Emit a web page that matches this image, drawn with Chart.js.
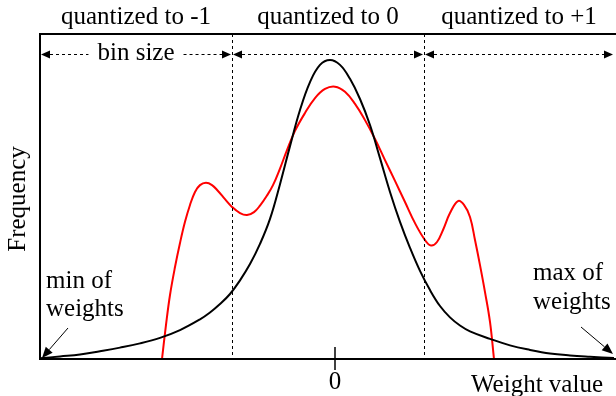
<!DOCTYPE html>
<html>
<head>
<meta charset="utf-8">
<script src="https://cdn.jsdelivr.net/npm/chart.js@4.4.1/dist/chart.umd.min.js"></script>
<style>
  html, body { margin: 0; padding: 0; background: #ffffff; }
  #c { display: block; }
</style>
</head>
<body>
<canvas id="c" width="616" height="396"></canvas>
<script>
// Full-precision weight distribution (black)
const fullX = [-2.95,-2.75,-2.55,-2.35,-2.15,-1.95,-1.75,-1.55,-1.35,-1.25,-1.15,-1.05,-0.95,-0.85,-0.75,-0.65,-0.55,-0.45,-0.35,-0.25,-0.15,-0.05,0.05,0.15,0.25,0.35,0.45,0.55,0.65,0.75,0.85,0.95,1.05,1.15,1.25,1.35,1.55,1.75,1.95,2.15,2.35,2.55,2.79];
const fullY = [0.002,0.008,0.014,0.024,0.035,0.048,0.065,0.089,0.122,0.143,0.169,0.200,0.242,0.292,0.354,0.431,0.538,0.655,0.766,0.852,0.905,0.920,0.905,0.862,0.800,0.720,0.618,0.514,0.422,0.342,0.271,0.212,0.163,0.128,0.103,0.085,0.062,0.042,0.028,0.017,0.011,0.007,0.003];
// Quantization-aware weight distribution (red)
const qX = [-1.73,-1.69,-1.65,-1.60,-1.55,-1.50,-1.45,-1.40,-1.35,-1.29,-1.23,-1.17,-1.10,-1.03,-0.95,-0.88,-0.81,-0.75,-0.68,-0.62,-0.55,-0.48,-0.40,-0.30,-0.20,-0.10,0.00,0.10,0.20,0.30,0.40,0.50,0.60,0.70,0.80,0.90,0.96,1.02,1.08,1.15,1.23,1.29,1.35,1.40,1.45,1.50,1.55,1.59];
const qY = [0.000,0.105,0.197,0.283,0.357,0.422,0.474,0.514,0.535,0.542,0.535,0.517,0.492,0.468,0.449,0.443,0.452,0.472,0.503,0.535,0.586,0.643,0.702,0.757,0.803,0.831,0.838,0.822,0.785,0.735,0.677,0.612,0.548,0.483,0.418,0.366,0.349,0.360,0.397,0.449,0.486,0.474,0.437,0.366,0.289,0.206,0.114,0.000];
// Quantization bin edges (dashed lines)
const binEdges = [-1.03, 0.89];
const regionLabels = ['quantized to -1', 'quantized to 0', 'quantized to +1'];
const binLabel = 'bin size';
const xTickValues = [0];
const xTickLabels = ['0'];
const xTitle = 'Weight value';
const yTitle = 'Frequency';
const minLabel = ['min of', 'weights'];
const maxLabel = ['max of', 'weights'];

const FONT = '25px "Liberation Serif", "Times New Roman", serif';

function toPts(xs, ys) { return xs.map((x, i) => ({ x: x, y: ys[i] })); }

function arrowHead(ctx, x, y, dir, len, half) {
  ctx.beginPath();
  ctx.moveTo(x, y);
  ctx.lineTo(x - dir * len, y - half);
  ctx.lineTo(x - dir * len, y + half);
  ctx.closePath();
  ctx.fill();
}

function slantArrow(ctx, x1, y1, x2, y2) {
  ctx.save();
  ctx.lineWidth = 1;
  ctx.strokeStyle = '#000';
  ctx.fillStyle = '#000';
  const ang = Math.atan2(y2 - y1, x2 - x1);
  const L = 11, H = 4.5;
  const bx = x2 - L * Math.cos(ang), by = y2 - L * Math.sin(ang);
  ctx.beginPath(); ctx.moveTo(x1, y1); ctx.lineTo(bx, by); ctx.stroke();
  ctx.beginPath();
  ctx.moveTo(x2, y2);
  ctx.lineTo(bx + H * Math.sin(ang), by - H * Math.cos(ang));
  ctx.lineTo(bx - H * Math.sin(ang), by + H * Math.cos(ang));
  ctx.closePath(); ctx.fill();
  ctx.restore();
}

const decor = {
  id: 'decor',
  afterDatasetsDraw(chart) {
    const ctx = chart.ctx;
    const a = chart.chartArea;
    const xs = chart.scales.x;
    ctx.save();
    // frame
    ctx.strokeStyle = '#000';
    ctx.lineWidth = 2;
    ctx.beginPath();
    ctx.moveTo(chart.width, a.top); ctx.lineTo(a.left, a.top); ctx.lineTo(a.left, a.bottom); ctx.lineTo(chart.width, a.bottom);
    ctx.stroke();
    // dashed bin edges
    ctx.lineWidth = 1;
    ctx.setLineDash([3, 3]);
    binEdges.forEach(v => {
      const px = Math.round(xs.getPixelForValue(v)) + 0.5;
      ctx.beginPath(); ctx.moveTo(px, a.top); ctx.lineTo(px, a.bottom); ctx.stroke();
    });
    ctx.setLineDash([]);
    // region labels and bin arrows
    const bounds = [a.left, ...binEdges.map(v => xs.getPixelForValue(v)), a.right];
    ctx.font = FONT;
    ctx.fillStyle = '#000';
    ctx.textAlign = 'center';
    ctx.textBaseline = 'middle';
    const ay = a.top + 20.5;
    for (let i = 0; i < bounds.length - 1; i++) {
      const l = bounds[i] + 1, r = bounds[i + 1] - 1;
      const cx = (bounds[i] + bounds[i + 1]) / 2;
      ctx.fillText(regionLabels[i], cx, 17);
      arrowHead(ctx, l, ay, -1, 9, 4);
      arrowHead(ctx, r, ay, 1, 9, 4);
      ctx.setLineDash([3, 3]);
      ctx.lineWidth = 1;
      if (i === 0) {
        const w = ctx.measureText(binLabel).width;
        ctx.fillText(binLabel, cx, ay - 1);
        ctx.beginPath(); ctx.moveTo(l + 9, ay); ctx.lineTo(cx - w / 2 - 9, ay); ctx.stroke();
        ctx.beginPath(); ctx.moveTo(cx + w / 2 + 9, ay); ctx.lineTo(r - 9, ay); ctx.stroke();
      } else {
        ctx.beginPath(); ctx.moveTo(l + 9, ay); ctx.lineTo(r - 9, ay); ctx.stroke();
      }
      ctx.setLineDash([]);
    }
    // x tick
    ctx.lineWidth = 1.5;
    xTickValues.forEach((v, i) => {
      const px = xs.getPixelForValue(v);
      ctx.beginPath(); ctx.moveTo(px, a.bottom - 12); ctx.lineTo(px, a.bottom + 11); ctx.stroke();
      ctx.fillText(xTickLabels[i], px, a.bottom + 23);
    });
    // axis titles
    ctx.fillText(xTitle, 537, a.bottom + 26);
    ctx.save();
    ctx.translate(18, 199);
    ctx.rotate(-Math.PI / 2);
    ctx.fillText(yTitle, 0, 0);
    ctx.restore();
    // min / max labels
    ctx.textAlign = 'left';
    ctx.fillText(minLabel[0], a.left + 6, a.bottom - 78);
    ctx.fillText(minLabel[1], a.left + 6, a.bottom - 50);
    ctx.fillText(maxLabel[0], 533, a.bottom - 86);
    ctx.fillText(maxLabel[1], 533, a.bottom - 57);
    slantArrow(ctx, a.left + 28, a.bottom - 31, a.left + 2, a.bottom - 1);
    slantArrow(ctx, 581, a.bottom - 32, a.right - 1, a.bottom - 5);
    ctx.restore();
  }
};

new Chart(document.getElementById('c'), {
  type: 'line',
  data: {
    datasets: [
      { data: toPts(fullX, fullY), borderColor: '#000000', borderWidth: 2, pointRadius: 0, tension: 0.4, fill: false },
      { data: toPts(qX, qY), borderColor: '#ff0000', borderWidth: 2, pointRadius: 0, tension: 0.4, fill: false }
    ]
  },
  options: {
    responsive: false,
    animation: false,
    layout: { padding: { left: 40, right: 2, top: 34, bottom: 37 } },
    scales: {
      x: { type: 'linear', min: -2.95, max: 2.79, display: false },
      y: { min: 0, max: 1, display: false }
    },
    plugins: { legend: { display: false }, tooltip: { enabled: false } }
  },
  plugins: [decor]
});
</script>
</body>
</html>
